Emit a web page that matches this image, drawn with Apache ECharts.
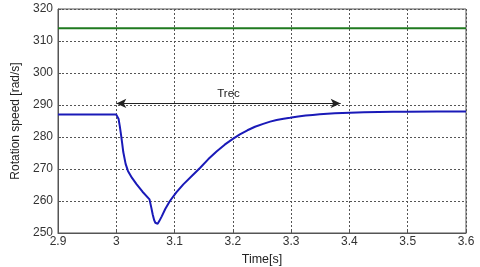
<!DOCTYPE html>
<html><head><meta charset="utf-8">
<script src="https://cdn.jsdelivr.net/npm/echarts@6/dist/echarts.min.js"></script>
<style>html,body{margin:0;padding:0;background:#fff}#c{width:480px;height:267px}</style>
</head><body><div id="c"></div>
<script>
var timeValues = [2.9, 3.0, 3.002, 3.004, 3.006, 3.008, 3.010, 3.012, 3.016, 3.02, 3.027, 3.035, 3.045, 3.057, 3.060, 3.0625, 3.065, 3.067, 3.069, 3.071, 3.074, 3.078, 3.084, 3.092, 3.103, 3.115, 3.13, 3.144, 3.158, 3.172, 3.186, 3.2, 3.212, 3.225, 3.238, 3.252, 3.264, 3.275, 3.287, 3.298, 3.312, 3.325, 3.337, 3.349, 3.362, 3.375, 3.388, 3.401, 3.425, 3.45, 3.475, 3.5, 3.55, 3.6];
var speedValues = [287, 287, 286.6, 285.6, 283.4, 280.9, 278.2, 275.3, 271.6, 269.4, 267.2, 265.2, 262.9, 260.5, 258.0, 255.8, 254.0, 253.2, 252.8, 252.9, 253.8, 255.2, 257.5, 260, 262.7, 265.2, 267.9, 270.4, 273.1, 275.5, 277.6, 279.4, 280.8, 282.1, 283.2, 284.1, 284.8, 285.3, 285.7, 286.0, 286.4, 286.7, 286.9, 287.1, 287.3, 287.4, 287.5, 287.6, 287.7, 287.8, 287.9, 287.9, 288, 288];
var refTime = [2.9, 3.6];
var refSpeed = [314, 314];
var arrowStart = [3.0, 290.5];
var arrowEnd = [3.385, 290.5];
var annotation = 'Trec';
var xTitle = 'Time[s]';
var yTitle = 'Rotation speed [rad/s]';

var chart = echarts.init(document.getElementById('c'), null, {renderer: 'canvas'});
var font = 'Liberation Sans, Arial, sans-serif';
chart.setOption({
  animation: false,
  backgroundColor: '#fff',
  grid: {left: 58, right: 14, top: 9, bottom: 34, show: true, borderColor: '#555', borderWidth: 1,
    containLabel: false, outerBoundsMode: 'none'},
  xAxis: {
    type: 'value', min: 2.9, max: 3.6, interval: 0.1,
    name: xTitle, nameLocation: 'middle', nameGap: 13,
    nameTextStyle: {fontFamily: font, fontSize: 12.5, color: '#222', verticalAlign: 'top'},
    axisLine: {show: true, lineStyle: {color: '#555'}},
    axisTick: {show: true, inside: true, length: 3, lineStyle: {color: '#555'}},
    axisLabel: {fontFamily: font, fontSize: 12, color: '#333', margin: 3,
      formatter: function (v) { return String(Math.round(v * 10) / 10); }},
    splitLine: {show: true, lineStyle: {color: '#555', type: [2, 2], width: 1}}
  },
  yAxis: {
    type: 'value', min: 250, max: 320, interval: 10,
    name: yTitle, nameLocation: 'middle', nameGap: 32,
    nameTextStyle: {fontFamily: font, fontSize: 12, color: '#222'},
    axisLine: {show: true, lineStyle: {color: '#555'}},
    axisTick: {show: true, inside: true, length: 3, lineStyle: {color: '#555'}},
    axisLabel: {fontFamily: font, fontSize: 12, color: '#333', margin: 5},
    splitLine: {show: true, lineStyle: {color: '#555', type: [2, 2], width: 1}}
  },
  series: [
    {
      type: 'line', data: refTime.map(function (t, i) { return [t, refSpeed[i]]; }),
      showSymbol: false, lineStyle: {color: '#1f7a1f', width: 2}
    },
    {
      type: 'line', data: timeValues.map(function (t, i) { return [t, speedValues[i]]; }),
      showSymbol: false, smooth: false, lineStyle: {color: '#1a1ab8', width: 2},
      markLine: {
        silent: true,
        symbol: ['arrow', 'arrow'], symbolSize: [7, 10],
        lineStyle: {color: '#222', type: 'solid', width: 1},
        label: {show: true, position: 'insideMiddleTop', formatter: annotation,
          fontFamily: font, fontSize: 11.5, color: '#222', distance: 4},
        data: [[{coord: arrowStart}, {coord: arrowEnd}]]
      }
    }
  ]
});
</script></body></html>
